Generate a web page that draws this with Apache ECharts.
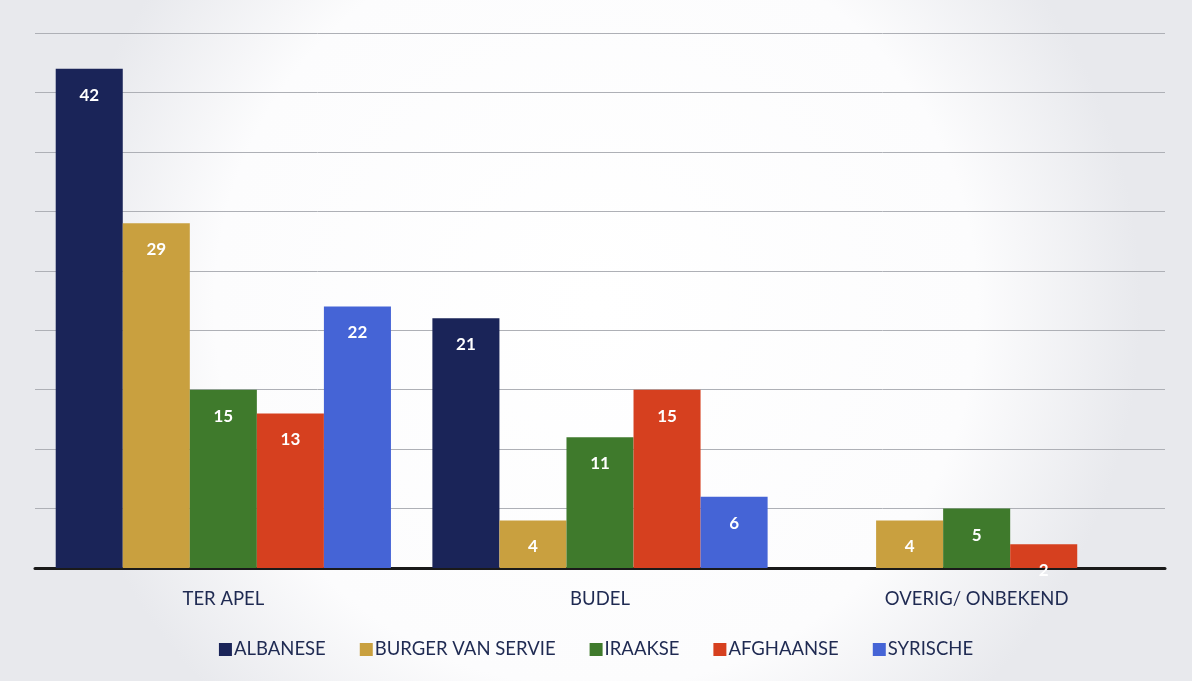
<!DOCTYPE html>
<html><head><meta charset="utf-8">
<script src="https://cdn.jsdelivr.net/npm/echarts@6/dist/echarts.min.js"></script>
<style>html,body{margin:0;padding:0;background:#fff}#c{width:1192px;height:681px}</style>
</head><body><div id="c"></div>
<script>
const categories = ['TER APEL', 'BUDEL', 'OVERIG/ ONBEKEND'];
const seriesNames = ['ALBANESE', 'BURGER VAN SERVIE', 'IRAAKSE', 'AFGHAANSE', 'SYRISCHE'];
const albanese = [42, 21, null];
const burger = [29, 4, 4];
const iraakse = [15, 11, 5];
const afghaanse = [13, 15, 2];
const syrische = [22, 6, null];
const colors = ['#1a2458', '#c9a03f', '#3f7a2c', '#d6401f', '#4564d6'];
const values = [albanese, burger, iraakse, afghaanse, syrische];

const chart = echarts.init(document.getElementById('c'));
chart.setOption({
  backgroundColor: {
    type: 'radial', x: 0.5, y: 0.45, r: 0.8,
    colorStops: [{offset: 0, color: '#ffffff'}, {offset: 0.7, color: '#fcfcfd'}, {offset: 1, color: '#e8e9ed'}]
  },
  textStyle: {fontFamily: 'Lato, "Open Sans", sans-serif'},
  grid: {left: 35, right: 27, top: 33, bottom: 113, containLabel: false},
  legend: {
    bottom: 17, left: 'center', itemWidth: 13, itemHeight: 13, itemGap: 34,
    icon: 'rect',
    textStyle: {color: '#1f2a52', fontSize: 18.5, fontFamily: 'Lato, sans-serif', padding: [0,0,0,-3]},
    data: seriesNames
  },
  xAxis: {
    type: 'category', data: categories,
    axisLine: {lineStyle: {color: '#1a1a1a', width: 3}},
    axisTick: {show: false},
    axisLabel: {color: '#1f2a52', fontSize: 18.5, margin: 22}
  },
  yAxis: {
    type: 'value', min: 0, max: 45, interval: 5,
    axisLine: {show: false}, axisTick: {show: false}, axisLabel: {show: false},
    splitLine: {lineStyle: {color: '#aeb0b6', width: 1}}
  },
  series: seriesNames.map((n, i) => ({
    name: n, type: 'bar', data: values[i],
    barGap: '0%', barCategoryGap: '11%',
    itemStyle: {color: colors[i]},
    label: {show: true, position: 'insideTop', distance: 18, color: '#ffffff', fontWeight: 'bold', fontSize: 17}
  }))
});
</script></body></html>
